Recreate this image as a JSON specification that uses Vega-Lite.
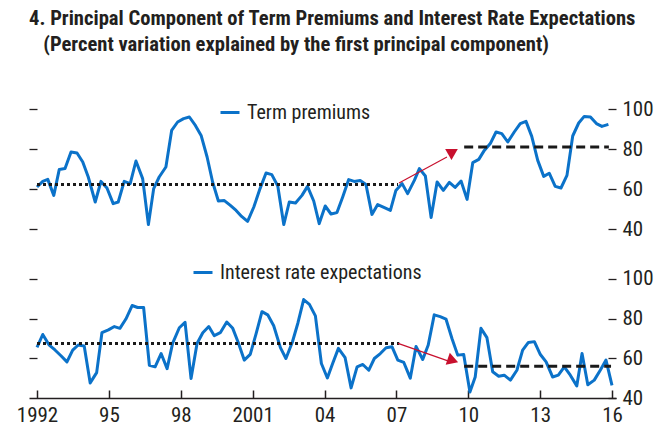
{
  "$schema": "https://vega.github.io/schema/vega-lite/v6.json",
  "padding": {"left": 16, "top": 9, "right": 0, "bottom": 0},
  "autosize": {"type": "pad"},
  "background": "white",
  "bounds": "flush",
  "spacing": 40,
  "title": {
    "text": ["4. Principal Component of Term Premiums and Interest Rate Expectations", "\u200b\u00a0\u00a0\u00a0(Percent variation explained by the first principal component)"],
    "anchor": "start",
    "frame": "group",
    "font": "Roboto Condensed, Liberation Sans, sans-serif",
    "fontSize": 20.6,
    "fontWeight": "bold",
    "lineHeight": 26,
    "color": "#231f20",
    "offset": 37
  },
  "config": {
    "view": {"stroke": null},
    "font": "Roboto Condensed, Liberation Sans, sans-serif",
    "axis": {
      "labelFont": "Roboto Condensed, Liberation Sans, sans-serif",
      "labelFontSize": 21,
      "labelColor": "#231f20",
      "tickColor": "#231f20",
      "tickWidth": 1.3,
      "grid": false,
      "title": null,
      "minExtent": 0
    },
    "legend": {
      "labelFont": "Roboto Condensed, Liberation Sans, sans-serif",
      "labelFontSize": 20,
      "labelColor": "#231f20",
      "labelLimit": 500,
      "padding": 0
    }
  },
  "datasets": {
    "tp": [
      {"year": 1992.00, "value": 61.0, "series": "Term premiums"},
      {"year": 1992.24, "value": 63.8, "series": "Term premiums"},
      {"year": 1992.45, "value": 64.8, "series": "Term premiums"},
      {"year": 1992.70, "value": 56.8, "series": "Term premiums"},
      {"year": 1992.93, "value": 69.8, "series": "Term premiums"},
      {"year": 1993.17, "value": 70.2, "series": "Term premiums"},
      {"year": 1993.42, "value": 78.5, "series": "Term premiums"},
      {"year": 1993.67, "value": 78.0, "series": "Term premiums"},
      {"year": 1993.91, "value": 73.5, "series": "Term premiums"},
      {"year": 1994.14, "value": 66.0, "series": "Term premiums"},
      {"year": 1994.43, "value": 53.5, "series": "Term premiums"},
      {"year": 1994.67, "value": 63.8, "series": "Term premiums"},
      {"year": 1994.92, "value": 60.5, "series": "Term premiums"},
      {"year": 1995.18, "value": 52.7, "series": "Term premiums"},
      {"year": 1995.39, "value": 53.5, "series": "Term premiums"},
      {"year": 1995.64, "value": 63.8, "series": "Term premiums"},
      {"year": 1995.89, "value": 62.7, "series": "Term premiums"},
      {"year": 1996.13, "value": 74.0, "series": "Term premiums"},
      {"year": 1996.41, "value": 65.2, "series": "Term premiums"},
      {"year": 1996.65, "value": 42.2, "series": "Term premiums"},
      {"year": 1996.87, "value": 60.2, "series": "Term premiums"},
      {"year": 1997.10, "value": 66.0, "series": "Term premiums"},
      {"year": 1997.38, "value": 71.0, "series": "Term premiums"},
      {"year": 1997.62, "value": 89.3, "series": "Term premiums"},
      {"year": 1997.87, "value": 93.5, "series": "Term premiums"},
      {"year": 1998.12, "value": 95.2, "series": "Term premiums"},
      {"year": 1998.36, "value": 96.0, "series": "Term premiums"},
      {"year": 1998.61, "value": 91.8, "series": "Term premiums"},
      {"year": 1998.85, "value": 86.8, "series": "Term premiums"},
      {"year": 1999.10, "value": 76.0, "series": "Term premiums"},
      {"year": 1999.33, "value": 63.5, "series": "Term premiums"},
      {"year": 1999.57, "value": 54.0, "series": "Term premiums"},
      {"year": 1999.82, "value": 54.2, "series": "Term premiums"},
      {"year": 2000.07, "value": 51.8, "series": "Term premiums"},
      {"year": 2000.31, "value": 49.3, "series": "Term premiums"},
      {"year": 2000.54, "value": 46.3, "series": "Term premiums"},
      {"year": 2000.79, "value": 43.8, "series": "Term premiums"},
      {"year": 2001.05, "value": 51.0, "series": "Term premiums"},
      {"year": 2001.31, "value": 60.2, "series": "Term premiums"},
      {"year": 2001.56, "value": 68.0, "series": "Term premiums"},
      {"year": 2001.80, "value": 67.2, "series": "Term premiums"},
      {"year": 2002.05, "value": 61.5, "series": "Term premiums"},
      {"year": 2002.30, "value": 42.2, "series": "Term premiums"},
      {"year": 2002.53, "value": 53.5, "series": "Term premiums"},
      {"year": 2002.79, "value": 53.0, "series": "Term premiums"},
      {"year": 2003.06, "value": 56.8, "series": "Term premiums"},
      {"year": 2003.29, "value": 61.3, "series": "Term premiums"},
      {"year": 2003.55, "value": 54.0, "series": "Term premiums"},
      {"year": 2003.78, "value": 42.7, "series": "Term premiums"},
      {"year": 2004.03, "value": 51.5, "series": "Term premiums"},
      {"year": 2004.27, "value": 47.5, "series": "Term premiums"},
      {"year": 2004.52, "value": 48.2, "series": "Term premiums"},
      {"year": 2004.76, "value": 56.0, "series": "Term premiums"},
      {"year": 2005.01, "value": 64.7, "series": "Term premiums"},
      {"year": 2005.24, "value": 63.8, "series": "Term premiums"},
      {"year": 2005.49, "value": 64.3, "series": "Term premiums"},
      {"year": 2005.73, "value": 62.3, "series": "Term premiums"},
      {"year": 2005.98, "value": 47.3, "series": "Term premiums"},
      {"year": 2006.22, "value": 52.2, "series": "Term premiums"},
      {"year": 2006.50, "value": 50.7, "series": "Term premiums"},
      {"year": 2006.75, "value": 49.3, "series": "Term premiums"},
      {"year": 2006.98, "value": 59.3, "series": "Term premiums"},
      {"year": 2007.24, "value": 62.7, "series": "Term premiums"},
      {"year": 2007.47, "value": 57.7, "series": "Term premiums"},
      {"year": 2007.75, "value": 64.3, "series": "Term premiums"},
      {"year": 2007.96, "value": 70.2, "series": "Term premiums"},
      {"year": 2008.21, "value": 66.5, "series": "Term premiums"},
      {"year": 2008.45, "value": 45.7, "series": "Term premiums"},
      {"year": 2008.70, "value": 63.5, "series": "Term premiums"},
      {"year": 2008.96, "value": 59.3, "series": "Term premiums"},
      {"year": 2009.21, "value": 63.3, "series": "Term premiums"},
      {"year": 2009.45, "value": 60.8, "series": "Term premiums"},
      {"year": 2009.70, "value": 64.0, "series": "Term premiums"},
      {"year": 2009.95, "value": 54.8, "series": "Term premiums"},
      {"year": 2010.19, "value": 73.2, "series": "Term premiums"},
      {"year": 2010.44, "value": 74.8, "series": "Term premiums"},
      {"year": 2010.67, "value": 79.3, "series": "Term premiums"},
      {"year": 2010.92, "value": 82.7, "series": "Term premiums"},
      {"year": 2011.16, "value": 88.5, "series": "Term premiums"},
      {"year": 2011.40, "value": 87.7, "series": "Term premiums"},
      {"year": 2011.65, "value": 83.5, "series": "Term premiums"},
      {"year": 2011.92, "value": 88.5, "series": "Term premiums"},
      {"year": 2012.17, "value": 92.7, "series": "Term premiums"},
      {"year": 2012.41, "value": 93.8, "series": "Term premiums"},
      {"year": 2012.65, "value": 86.3, "series": "Term premiums"},
      {"year": 2012.90, "value": 74.3, "series": "Term premiums"},
      {"year": 2013.15, "value": 66.3, "series": "Term premiums"},
      {"year": 2013.38, "value": 67.9, "series": "Term premiums"},
      {"year": 2013.63, "value": 61.3, "series": "Term premiums"},
      {"year": 2013.87, "value": 60.5, "series": "Term premiums"},
      {"year": 2014.12, "value": 66.8, "series": "Term premiums"},
      {"year": 2014.36, "value": 86.5, "series": "Term premiums"},
      {"year": 2014.61, "value": 93.0, "series": "Term premiums"},
      {"year": 2014.84, "value": 96.3, "series": "Term premiums"},
      {"year": 2015.10, "value": 96.0, "series": "Term premiums"},
      {"year": 2015.35, "value": 92.7, "series": "Term premiums"},
      {"year": 2015.58, "value": 91.3, "series": "Term premiums"},
      {"year": 2015.85, "value": 92.3, "series": "Term premiums"}
    ],
    "ire": [
      {"year": 1992.00, "value": 65.5, "series": "Interest rate expectations"},
      {"year": 1992.24, "value": 72.0, "series": "Interest rate expectations"},
      {"year": 1992.50, "value": 66.8, "series": "Interest rate expectations"},
      {"year": 1992.75, "value": 64.2, "series": "Interest rate expectations"},
      {"year": 1993.00, "value": 61.3, "series": "Interest rate expectations"},
      {"year": 1993.25, "value": 58.2, "series": "Interest rate expectations"},
      {"year": 1993.49, "value": 64.1, "series": "Interest rate expectations"},
      {"year": 1993.72, "value": 66.7, "series": "Interest rate expectations"},
      {"year": 1993.97, "value": 66.2, "series": "Interest rate expectations"},
      {"year": 1994.22, "value": 47.6, "series": "Interest rate expectations"},
      {"year": 1994.49, "value": 52.8, "series": "Interest rate expectations"},
      {"year": 1994.71, "value": 72.9, "series": "Interest rate expectations"},
      {"year": 1994.98, "value": 74.3, "series": "Interest rate expectations"},
      {"year": 1995.23, "value": 76.0, "series": "Interest rate expectations"},
      {"year": 1995.46, "value": 75.1, "series": "Interest rate expectations"},
      {"year": 1995.71, "value": 79.8, "series": "Interest rate expectations"},
      {"year": 1995.97, "value": 86.6, "series": "Interest rate expectations"},
      {"year": 1996.20, "value": 85.6, "series": "Interest rate expectations"},
      {"year": 1996.45, "value": 85.6, "series": "Interest rate expectations"},
      {"year": 1996.69, "value": 56.5, "series": "Interest rate expectations"},
      {"year": 1996.93, "value": 55.7, "series": "Interest rate expectations"},
      {"year": 1997.18, "value": 62.4, "series": "Interest rate expectations"},
      {"year": 1997.43, "value": 54.8, "series": "Interest rate expectations"},
      {"year": 1997.66, "value": 67.5, "series": "Interest rate expectations"},
      {"year": 1997.94, "value": 75.4, "series": "Interest rate expectations"},
      {"year": 1998.18, "value": 78.1, "series": "Interest rate expectations"},
      {"year": 1998.43, "value": 49.8, "series": "Interest rate expectations"},
      {"year": 1998.68, "value": 67.5, "series": "Interest rate expectations"},
      {"year": 1998.92, "value": 72.9, "series": "Interest rate expectations"},
      {"year": 1999.17, "value": 76.0, "series": "Interest rate expectations"},
      {"year": 1999.40, "value": 71.4, "series": "Interest rate expectations"},
      {"year": 1999.65, "value": 72.9, "series": "Interest rate expectations"},
      {"year": 1999.92, "value": 78.3, "series": "Interest rate expectations"},
      {"year": 2000.17, "value": 75.1, "series": "Interest rate expectations"},
      {"year": 2000.40, "value": 68.0, "series": "Interest rate expectations"},
      {"year": 2000.65, "value": 59.1, "series": "Interest rate expectations"},
      {"year": 2000.90, "value": 62.0, "series": "Interest rate expectations"},
      {"year": 2001.14, "value": 72.2, "series": "Interest rate expectations"},
      {"year": 2001.39, "value": 83.5, "series": "Interest rate expectations"},
      {"year": 2001.63, "value": 81.9, "series": "Interest rate expectations"},
      {"year": 2001.88, "value": 76.4, "series": "Interest rate expectations"},
      {"year": 2002.16, "value": 65.4, "series": "Interest rate expectations"},
      {"year": 2002.39, "value": 59.9, "series": "Interest rate expectations"},
      {"year": 2002.66, "value": 68.2, "series": "Interest rate expectations"},
      {"year": 2002.89, "value": 77.8, "series": "Interest rate expectations"},
      {"year": 2003.13, "value": 89.6, "series": "Interest rate expectations"},
      {"year": 2003.37, "value": 87.2, "series": "Interest rate expectations"},
      {"year": 2003.62, "value": 81.4, "series": "Interest rate expectations"},
      {"year": 2003.87, "value": 57.4, "series": "Interest rate expectations"},
      {"year": 2004.12, "value": 50.1, "series": "Interest rate expectations"},
      {"year": 2004.34, "value": 57.4, "series": "Interest rate expectations"},
      {"year": 2004.58, "value": 65.0, "series": "Interest rate expectations"},
      {"year": 2004.86, "value": 60.3, "series": "Interest rate expectations"},
      {"year": 2005.11, "value": 45.1, "series": "Interest rate expectations"},
      {"year": 2005.36, "value": 55.7, "series": "Interest rate expectations"},
      {"year": 2005.60, "value": 56.9, "series": "Interest rate expectations"},
      {"year": 2005.85, "value": 54.0, "series": "Interest rate expectations"},
      {"year": 2006.08, "value": 59.9, "series": "Interest rate expectations"},
      {"year": 2006.33, "value": 62.4, "series": "Interest rate expectations"},
      {"year": 2006.57, "value": 65.3, "series": "Interest rate expectations"},
      {"year": 2006.82, "value": 65.8, "series": "Interest rate expectations"},
      {"year": 2007.06, "value": 59.1, "series": "Interest rate expectations"},
      {"year": 2007.31, "value": 57.9, "series": "Interest rate expectations"},
      {"year": 2007.58, "value": 50.0, "series": "Interest rate expectations"},
      {"year": 2007.82, "value": 66.0, "series": "Interest rate expectations"},
      {"year": 2008.10, "value": 59.4, "series": "Interest rate expectations"},
      {"year": 2008.33, "value": 66.7, "series": "Interest rate expectations"},
      {"year": 2008.58, "value": 81.9, "series": "Interest rate expectations"},
      {"year": 2008.83, "value": 81.0, "series": "Interest rate expectations"},
      {"year": 2009.07, "value": 79.8, "series": "Interest rate expectations"},
      {"year": 2009.32, "value": 70.0, "series": "Interest rate expectations"},
      {"year": 2009.56, "value": 61.6, "series": "Interest rate expectations"},
      {"year": 2009.81, "value": 61.9, "series": "Interest rate expectations"},
      {"year": 2010.07, "value": 43.0, "series": "Interest rate expectations"},
      {"year": 2010.29, "value": 50.6, "series": "Interest rate expectations"},
      {"year": 2010.53, "value": 75.1, "series": "Interest rate expectations"},
      {"year": 2010.78, "value": 70.4, "series": "Interest rate expectations"},
      {"year": 2011.02, "value": 53.2, "series": "Interest rate expectations"},
      {"year": 2011.27, "value": 51.0, "series": "Interest rate expectations"},
      {"year": 2011.50, "value": 51.5, "series": "Interest rate expectations"},
      {"year": 2011.76, "value": 49.0, "series": "Interest rate expectations"},
      {"year": 2012.03, "value": 54.0, "series": "Interest rate expectations"},
      {"year": 2012.27, "value": 64.1, "series": "Interest rate expectations"},
      {"year": 2012.51, "value": 68.0, "series": "Interest rate expectations"},
      {"year": 2012.76, "value": 68.4, "series": "Interest rate expectations"},
      {"year": 2013.01, "value": 61.9, "series": "Interest rate expectations"},
      {"year": 2013.25, "value": 58.2, "series": "Interest rate expectations"},
      {"year": 2013.52, "value": 50.6, "series": "Interest rate expectations"},
      {"year": 2013.76, "value": 51.5, "series": "Interest rate expectations"},
      {"year": 2014.01, "value": 55.7, "series": "Interest rate expectations"},
      {"year": 2014.26, "value": 51.5, "series": "Interest rate expectations"},
      {"year": 2014.53, "value": 46.1, "series": "Interest rate expectations"},
      {"year": 2014.75, "value": 62.4, "series": "Interest rate expectations"},
      {"year": 2014.99, "value": 46.7, "series": "Interest rate expectations"},
      {"year": 2015.26, "value": 49.0, "series": "Interest rate expectations"},
      {"year": 2015.51, "value": 54.0, "series": "Interest rate expectations"},
      {"year": 2015.75, "value": 59.1, "series": "Interest rate expectations"},
      {"year": 2016.00, "value": 46.4, "series": "Interest rate expectations"}
    ],
    "refs": [
      {"panel": "top", "kind": "dotted", "x1": 1992.0, "x2": 2007.07, "y1": 62.2, "y2": 62.2},
      {"panel": "top", "kind": "dashed", "x1": 2009.83, "x2": 2015.87, "y1": 81.0, "y2": 81.0},
      {"panel": "top", "kind": "arrow", "x1": 2007.11, "x2": 2009.11, "y1": 63.0, "y2": 76.0},
      {"panel": "top", "kind": "head", "x1": 2009.30, "x2": 2009.30, "y1": 77.3, "y2": 77.3},
      {"panel": "bottom", "kind": "dotted", "x1": 1992.0, "x2": 2007.12, "y1": 67.5, "y2": 67.5},
      {"panel": "bottom", "kind": "dashed", "x1": 2009.83, "x2": 2015.96, "y1": 56.0, "y2": 56.0},
      {"panel": "bottom", "kind": "arrow", "x1": 2007.07, "x2": 2009.15, "y1": 67.5, "y2": 58.7},
      {"panel": "bottom", "kind": "head", "x1": 2009.36, "x2": 2009.36, "y1": 58.9, "y2": 58.9}
    ]
  },
  "resolve": {"scale": {"y": "independent", "color": "independent"}, "legend": {"color": "independent"}},
  "vconcat": [
    {
      "width": 587,
      "height": 136,
      "resolve": {"scale": {"y": "independent"}},
      "layer": [
        {
          "data": {"name": "tp"},
          "mark": {"type": "line", "strokeWidth": 3, "strokeJoin": "round"},
          "encoding": {
            "x": {"field": "year", "type": "quantitative", "scale": {"domain": [1991.666, 2016.167], "nice": false, "zero": false}, "axis": null},
            "y": {"field": "value", "type": "quantitative", "scale": {"domain": [40, 108], "nice": false, "zero": false},
              "axis": {"orient": "right", "values": [40, 60, 80, 100], "tickSize": -8, "labelPadding": 14, "domain": false, "labelBaseline": "middle"}},
            "color": {"field": "series", "type": "nominal", "scale": {"range": ["#0b72c9"]},
              "legend": {"orient": "none", "legendX": 190, "legendY": 8.5, "title": null, "symbolType": "stroke", "symbolStrokeWidth": 3, "symbolSize": 361, "labelOffset": 6}}
          }
        },
        {
          "data": {"name": "refs"},
          "transform": [{"filter": "datum.panel == 'top' && datum.kind == 'dotted'"}],
          "mark": {"type": "rule", "strokeWidth": 3, "strokeDash": [3, 3], "color": "#1a1a1a"},
          "encoding": {
            "x": {"field": "x1", "type": "quantitative"},
            "x2": {"field": "x2"},
            "y": {"field": "y1", "type": "quantitative", "scale": {"domain": [40, 108], "nice": false, "zero": false},
              "axis": {"orient": "left", "values": [40, 60, 80, 100], "labels": false, "tickSize": -8, "domain": false}}
          }
        },
        {
          "data": {"name": "refs"},
          "transform": [{"filter": "datum.panel == 'top' && datum.kind == 'dashed'"}],
          "mark": {"type": "rule", "strokeWidth": 3, "strokeDash": [9, 5], "color": "#1a1a1a"},
          "encoding": {
            "x": {"field": "x1", "type": "quantitative"},
            "x2": {"field": "x2"},
            "y": {"field": "y1", "type": "quantitative", "scale": {"domain": [40, 108], "nice": false, "zero": false}, "axis": null}
          }
        },
        {
          "data": {"name": "refs"},
          "transform": [{"filter": "datum.panel == 'top' && datum.kind == 'arrow'"}],
          "mark": {"type": "rule", "strokeWidth": 1.2, "color": "#c8102e"},
          "encoding": {
            "x": {"field": "x1", "type": "quantitative"},
            "x2": {"field": "x2"},
            "y": {"field": "y1", "type": "quantitative", "scale": {"domain": [40, 108], "nice": false, "zero": false}, "axis": null},
            "y2": {"field": "y2"}
          }
        },
        {
          "data": {"name": "refs"},
          "transform": [{"filter": "datum.panel == 'top' && datum.kind == 'head'"}],
          "mark": {"type": "point", "shape": "triangle-down", "filled": true, "size": 160, "color": "#c8102e", "opacity": 1},
          "encoding": {
            "x": {"field": "x1", "type": "quantitative"},
            "y": {"field": "y1", "type": "quantitative", "scale": {"domain": [40, 108], "nice": false, "zero": false}, "axis": null}
          }
        }
      ]
    },
    {
      "width": 587,
      "height": 129,
      "resolve": {"scale": {"y": "independent"}},
      "layer": [
        {
          "data": {"name": "ire"},
          "mark": {"type": "line", "strokeWidth": 3, "strokeJoin": "round"},
          "encoding": {
            "x": {"field": "year", "type": "quantitative", "scale": {"domain": [1991.666, 2016.167], "nice": false, "zero": false},
              "axis": {"orient": "bottom", "values": [1992, 1995, 1998, 2001, 2004, 2007, 2010, 2013, 2016], "format": "d",
                "labelExpr": "datum.value == 1992 || datum.value == 2001 ? datum.label : substring(datum.label, 2)",
                "tickSize": -8, "labelPadding": 14.5, "domain": true, "domainColor": "#231f20", "domainWidth": 1.5, "tickWidth": 1.5,
                "labelFlush": false, "labelOverlap": false, "labelBaseline": "top"}},
            "y": {"field": "value", "type": "quantitative", "scale": {"domain": [40, 105], "nice": false, "zero": false},
              "axis": {"orient": "right", "values": [40, 60, 80, 100], "tickSize": -8, "labelPadding": 14, "domain": false, "labelBaseline": "middle"}},
            "color": {"field": "series", "type": "nominal", "scale": {"range": ["#0b72c9"]},
              "legend": {"orient": "none", "legendX": 163, "legendY": -7.5, "title": null, "symbolType": "stroke", "symbolStrokeWidth": 3, "symbolSize": 361, "labelOffset": 6}}
          }
        },
        {
          "data": {"name": "refs"},
          "transform": [{"filter": "datum.panel == 'bottom' && datum.kind == 'dotted'"}],
          "mark": {"type": "rule", "strokeWidth": 3, "strokeDash": [3, 3], "color": "#1a1a1a"},
          "encoding": {
            "x": {"field": "x1", "type": "quantitative"},
            "x2": {"field": "x2"},
            "y": {"field": "y1", "type": "quantitative", "scale": {"domain": [40, 105], "nice": false, "zero": false},
              "axis": {"orient": "left", "values": [60, 80, 100], "labels": false, "tickSize": -8, "domain": false}}
          }
        },
        {
          "data": {"name": "refs"},
          "transform": [{"filter": "datum.panel == 'bottom' && datum.kind == 'dashed'"}],
          "mark": {"type": "rule", "strokeWidth": 3, "strokeDash": [9, 5], "color": "#1a1a1a"},
          "encoding": {
            "x": {"field": "x1", "type": "quantitative"},
            "x2": {"field": "x2"},
            "y": {"field": "y1", "type": "quantitative", "scale": {"domain": [40, 105], "nice": false, "zero": false}, "axis": null}
          }
        },
        {
          "data": {"name": "refs"},
          "transform": [{"filter": "datum.panel == 'bottom' && datum.kind == 'arrow'"}],
          "mark": {"type": "rule", "strokeWidth": 1.2, "color": "#c8102e"},
          "encoding": {
            "x": {"field": "x1", "type": "quantitative"},
            "x2": {"field": "x2"},
            "y": {"field": "y1", "type": "quantitative", "scale": {"domain": [40, 105], "nice": false, "zero": false}, "axis": null},
            "y2": {"field": "y2"}
          }
        },
        {
          "data": {"name": "refs"},
          "transform": [{"filter": "datum.panel == 'bottom' && datum.kind == 'head'"}],
          "mark": {"type": "point", "shape": "triangle-right", "angle": 19, "filled": true, "size": 160, "color": "#c8102e", "opacity": 1},
          "encoding": {
            "x": {"field": "x1", "type": "quantitative"},
            "y": {"field": "y1", "type": "quantitative", "scale": {"domain": [40, 105], "nice": false, "zero": false}, "axis": null}
          }
        }
      ]
    }
  ]
}
